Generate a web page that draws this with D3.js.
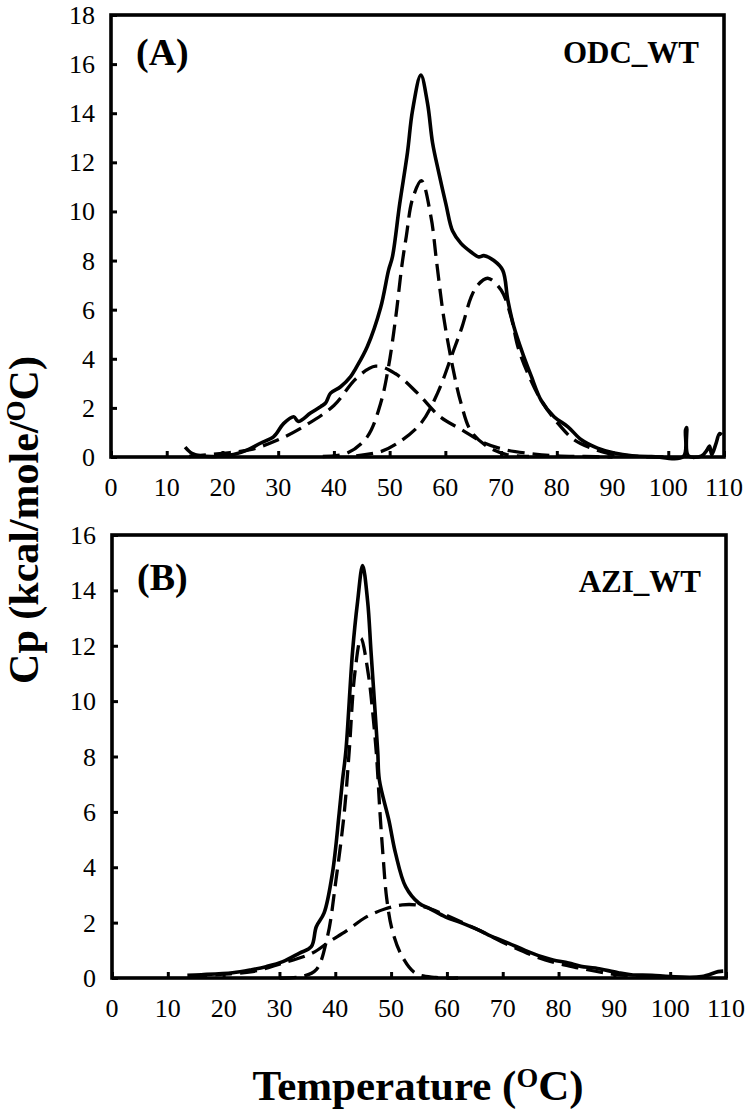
<!DOCTYPE html>
<html>
<head>
<meta charset="utf-8">
<script src="https://cdn.jsdelivr.net/npm/d3@7"></script>
<style>
  body { margin: 0; background: #fff; }
  svg { display: block; }
  text { font-family: "Liberation Serif", "DejaVu Serif", serif; fill: #000; }
</style>
</head>
<body>
<svg id="chart" width="753" height="1114"></svg>
<script>
// x ticks shared by both panels
const xTicks = [0, 10, 20, 30, 40, 50, 60, 70, 80, 90, 100, 110];
const yTicksA = [0, 2, 4, 6, 8, 10, 12, 14, 16, 18];
const yTicksB = [0, 2, 4, 6, 8, 10, 12, 14, 16];

// Panel A (ODC_WT) - measured trace, [temperature, Cp]
const odcMeasured = [[13.3,0.4],[14.5,0.15],[16,0.05],[18,0.02],[20,0.05],[22,0.1],[24.4,0.28],[26.8,0.56],[29.2,0.83],
  [31,1.37],[32.8,1.64],[33.6,1.45],[35.8,1.79],[37.6,2.05],[38.5,2.2],[39.4,2.6],[41.2,2.86],[43,3.27],[43.9,3.6],
  [46,4.5],[48.4,6.1],[49.8,7.6],[50.5,8.15],[51.8,10.3],[53.2,12.4],[54.1,14.1],[55.6,15.55],[56.8,14.4],[57.7,12.8],
  [58.8,11.6],[60.1,10.3],[61.3,9.2],[62.8,8.7],[64.6,8.35],[66,8.15],[66.9,8.2],[68.7,8.0],[70.3,7.6],[71.2,6.4],
  [72.3,5.3],[73.9,4.2],[75.4,3.3],[77.2,2.3],[79.5,1.64],[82,1.23],[84.4,0.7],[87.3,0.36],[90.3,0.16],[93.5,0.05],
  [97,0.02],[102.7,0.02],[103.1,1.1],[103.3,1.2],[103.6,0.05],[106,0.05],[107,0.3],[107.4,0.45],[107.8,0.1],
  [108.5,0.5],[109.2,0.95],[109.6,0.9]];
// Panel A - fitted components
const odcFit1 = [[14,0.02],[20,0.15],[25,0.3],[30,0.7],[35,1.3],[40,2.1],[44,3.2],[47.5,3.7],[51,3.4],[55,2.6],
  [59,1.65],[63,1.1],[67,0.57],[71,0.28],[76,0.12],[80,0.05],[85,0.02],[90,0]];
const odcFit2 = [[38,0.02],[42.4,0.16],[46,0.83],[48.4,2.2],[49.8,3.68],[51.1,5.7],[52.2,7.8],[53,9.0],[54.1,10.5],
  [55.7,11.25],[57.4,9.8],[58.4,8.0],[59.7,5.7],[61.3,3.68],[62.8,2.2],[64.6,1.05],[67.6,0.42],[71,0.1],[75,0.02]];
const odcFit3 = [[44,0.05],[48.4,0.22],[51.4,0.56],[55.6,1.37],[58.6,2.6],[61.5,4.36],[63,5.3],[64.6,6.5],[65.8,7.0],
  [67.6,7.28],[70,6.8],[71.8,5.7],[73,4.5],[74.8,3.4],[77.2,2.3],[80.2,1.37],[83.1,0.7],[86.2,0.36],[89.2,0.15],
  [95,0.02],[100,0]];

// Panel B (AZI_WT)
const aziMeasured = [[13.5,0.1],[16,0.12],[21.6,0.19],[25,0.3],[27.6,0.41],[30.6,0.59],[33.6,0.9],[35.7,1.13],
  [36.6,1.85],[38,2.35],[39.5,3.8],[40.7,5.95],[41.3,7.15],[41.9,8.2],[43.1,11.8],[44,13.6],[44.9,14.9],[45.8,13.6],
  [46.4,11.8],[47.6,8.2],[47.9,7.15],[49.6,5.7],[50.8,4.5],[52.6,3.3],[55,2.7],[57,2.5],[59.8,2.2],[62.5,2.0],
  [65.7,1.73],[68,1.5],[71,1.26],[74,1.0],[77,0.77],[79,0.65],[81.8,0.54],[84,0.42],[86.6,0.36],[90.7,0.19],
  [93,0.12],[96.7,0.1],[100,0.05],[105.6,0.05],[108.6,0.23],[109.5,0.25]];
const aziFit1 = [[30,0],[34,0.05],[36.6,0.3],[38.6,1.5],[40.1,3.5],[41.6,5.95],[42.5,8.2],[43.5,11.0],[44.6,12.27],
  [45.9,11.0],[46.7,9.6],[47.4,8.0],[48.0,6.0],[48.6,4.3],[49.2,2.9],[50.2,1.73],[52,0.77],[54.4,0.17],[58,0.02],[62,0]];
const aziFit2 = [[14,0.05],[19.4,0.13],[25.2,0.23],[30,0.5],[35.9,0.9],[38.9,1.31],[42,1.7],[45.5,2.2],[49,2.5],
  [52,2.64],[54.4,2.64],[57,2.5],[59.8,2.27],[65.7,1.73],[71.7,1.13],[77.6,0.65],[83.7,0.36],[89.6,0.14],[95,0.05],[100,0.02]];

const svg = d3.select('#chart');

function drawPanel(cfg) {
    const x = d3.scaleLinear().domain([0, 110]).range([cfg.left, cfg.right]);
    const y = d3.scaleLinear().domain([0, cfg.yMax]).range([cfg.bottom, cfg.top]);
    const g = svg.append('g');

    const line = d3.line()
        .x(d => x(d[0]))
        .y(d => y(d[1]))
        .curve(d3.curveCatmullRom.alpha(0.5));

    cfg.fits.forEach(f => {
        g.append('path')
            .attr('d', line(f))
            .attr('fill', 'none')
            .attr('stroke', '#000')
            .attr('stroke-width', 3.3)
            .attr('stroke-dasharray', '17,8');
    });

    g.append('path')
        .attr('d', line(cfg.measured))
        .attr('fill', 'none')
        .attr('stroke', '#000')
        .attr('stroke-width', 3.6)
        .attr('stroke-linejoin', 'round');

    // frame
    g.append('rect')
        .attr('x', cfg.left).attr('y', cfg.top)
        .attr('width', cfg.right - cfg.left).attr('height', cfg.bottom - cfg.top)
        .attr('fill', 'none').attr('stroke', '#000').attr('stroke-width', 3.6);

    // inside ticks
    const xAxis = d3.axisTop(x).tickValues(xTicks).tickSize(6).tickFormat('');
    g.append('g').attr('transform', `translate(0,${cfg.bottom})`).call(xAxis)
        .call(s => s.select('.domain').remove())
        .selectAll('line').attr('stroke-width', 3);
    const yAxis = d3.axisRight(y).tickValues(cfg.yTicks).tickSize(6).tickFormat('');
    g.append('g').attr('transform', `translate(${cfg.left},0)`).call(yAxis)
        .call(s => s.select('.domain').remove())
        .selectAll('line').attr('stroke-width', 3);

    // tick labels
    g.selectAll('.xl').data(xTicks).enter().append('text')
        .attr('x', d => x(d)).attr('y', cfg.bottom + 39)
        .attr('text-anchor', 'middle').attr('font-size', 26)
        .text(d => d);
    g.selectAll('.yl').data(cfg.yTicks).enter().append('text')
        .attr('x', cfg.left - 16).attr('y', d => y(d) + 9)
        .attr('text-anchor', 'end').attr('font-size', 26)
        .text(d => d);

    g.append('text').attr('x', cfg.left + 25).attr('y', cfg.top + cfg.tagDy)
        .attr('font-size', 38).attr('font-weight', 'bold').text(cfg.tag);
    g.append('text').attr('x', cfg.right - 25).attr('y', cfg.top + cfg.nameDy)
        .attr('text-anchor', 'end')
        .attr('font-size', 31).attr('font-weight', 'bold').text(cfg.name);
}

drawPanel({left: 111, right: 724, top: 15, bottom: 457, yMax: 18, yTicks: yTicksA,
    measured: odcMeasured, fits: [odcFit1, odcFit2, odcFit3], tag: '(A)', name: 'ODC_WT', tagDy: 50, nameDy: 48});
drawPanel({left: 112, right: 726, top: 535, bottom: 978, yMax: 16, yTicks: yTicksB,
    measured: aziMeasured, fits: [aziFit1, aziFit2], tag: '(B)', name: 'AZI_WT', tagDy: 55, nameDy: 57});

// axis titles
const yTitle = svg.append('text')
    .attr('transform', 'translate(38,520) rotate(-90)')
    .attr('text-anchor', 'middle')
    .attr('font-size', 42).attr('font-weight', 'bold');
yTitle.append('tspan').text('Cp (kcal/mole/');
yTitle.append('tspan').attr('font-size', 27).attr('dy', -13).text('O');
yTitle.append('tspan').attr('dy', 13).text('C)');

const xTitle = svg.append('text')
    .attr('x', 418).attr('y', 1100)
    .attr('text-anchor', 'middle')
    .attr('font-size', 43).attr('font-weight', 'bold');
xTitle.append('tspan').text('Temperature (');
xTitle.append('tspan').attr('font-size', 28).attr('dy', -13).text('O');
xTitle.append('tspan').attr('dy', 13).text('C)');
</script>
</body>
</html>
